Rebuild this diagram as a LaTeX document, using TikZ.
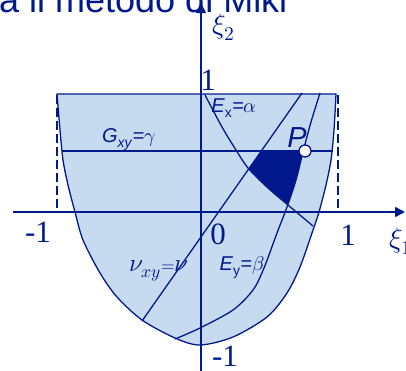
\documentclass[tikz,border=0pt]{standalone}
\usepackage{fontspec}
\usepackage{unicode-math}
\setmainfont{Liberation Serif}
\setmathfont{Latin Modern Math}
\newfontfamily\arialf{Liberation Sans}
\usetikzlibrary{arrows.meta}
\definecolor{navy}{RGB}{0,26,140}
\definecolor{lightfill}{RGB}{198,218,240}
\definecolor{darkfill}{RGB}{0,24,140}
\tikzset{
  curve/.style={draw=navy, line width=1.3pt},
  axis/.style={draw=navy, line width=1.6pt, -{Triangle[length=10pt,width=10pt]}},
  guide/.style={draw=navy, line width=1.6pt, dash pattern=on 9pt off 4pt},
  numlab/.style={text=navy, inner sep=0pt, font=\fontsize{31}{31}\selectfont, anchor=base},
  sanslab/.style={text=navy, inner sep=0pt, font=\arialf\fontsize{20}{20}\selectfont},
}
\begin{document}
\begin{tikzpicture}[x=1pt,y=-1pt]
\useasboundingbox (0,0) rectangle (406,370);
\clip (0,0) rectangle (406,370);
% title (clipped)
\node[anchor=base west, inner sep=0pt, text=navy, font=\arialf\fontsize{36}{36}\selectfont] (title) at (-1,12) {a il metodo di Miki};
% feasible region
\filldraw[curve, fill=lightfill] plot[smooth] coordinates {(57,94) (60,130) (63,160) (68,185) (75,212) (83,240) (100,273) (117,297) (142,320) (175,338) (200,345) (233,337) (267,317) (287,293) (300,267) (312,233) (319,212) (326,185) (331,160) (334,130) (336,94)} -- cycle;
% dashed guides
\draw[guide] (57,95) -- (57,212);
\draw[guide] (338,95) -- (338,212);
% axes
\draw[axis] (13,212) -- (405,212);
\draw[axis] (201,372) -- (201,3);
% dark region
\begin{scope}
  \clip plot[smooth] coordinates {(175,339) (200,328) (233,310) (253,290) (264,268) (277,233) (287,207) (296,180) (303,152) (311,122) (320,93)} -- (320,0) -- (0,0) -- (0,339) -- cycle;
  \clip plot[smooth] coordinates {(205,95) (222,127) (236,150) (248,168) (268,188) (288,205) (313,226)} -- (406,226) -- (406,0) -- (205,0) -- cycle;
  \fill[darkfill] (261.2,151) -- (406,151) -- (406,370) -- (107.7,370) -- cycle;
\end{scope}
% curves
\draw[curve] (62,151) -- (333,151);
\draw[curve] (142,321) -- (302,93);
\draw[curve] plot[smooth] coordinates {(175,339) (200,328) (233,310) (253,290) (264,268) (277,233) (287,207) (296,180) (303,152) (311,122) (320,93)};
\draw[curve] plot[smooth] coordinates {(205,95) (222,127) (236,150) (248,168) (268,188) (288,205) (313,226)};
% point P
\draw[navy, line width=1.3pt, fill=white] (305,151) circle (6pt);
\node[text=navy, inner sep=0pt, font=\arialf\itshape\fontsize{29}{29}\selectfont] (plab) at (297,138) {P};
% labels
\node[sanslab] (exlab) at (234,108) {\textit{E}\textsubscript{x}=$\alpha$};
\node[sanslab] (gxylab) at (129,139) {\textit{G}\textsubscript{\textit{xy}}=$\gamma$};
\node[sanslab] (eylab) at (242,267) {\textit{E}\textsubscript{y}=$\beta$};
\node[text=navy, inner sep=0pt, font=\fontsize{25}{25}\selectfont] (nulab) at (159,271) {$\nu_{xy}{\scriptstyle=}\nu$};
\node[text=navy, inner sep=0pt, font=\fontsize{28}{28}\selectfont] (xi2) at (224,27) {$\xi_2$};
\node[text=navy, inner sep=0pt, font=\fontsize{28}{28}\selectfont, anchor=west] (xi1) at (389,241) {$\xi_1$};
\node[numlab] (ytop) at (208,90) {1};
\node[numlab] (orig) at (218,244) {0};
\node[numlab] (xleft) at (38,242) {-1};
\node[numlab] (xright) at (348,245) {1};
\node[numlab] (ybot) at (225,366) {-1};
\end{tikzpicture}
\end{document}
